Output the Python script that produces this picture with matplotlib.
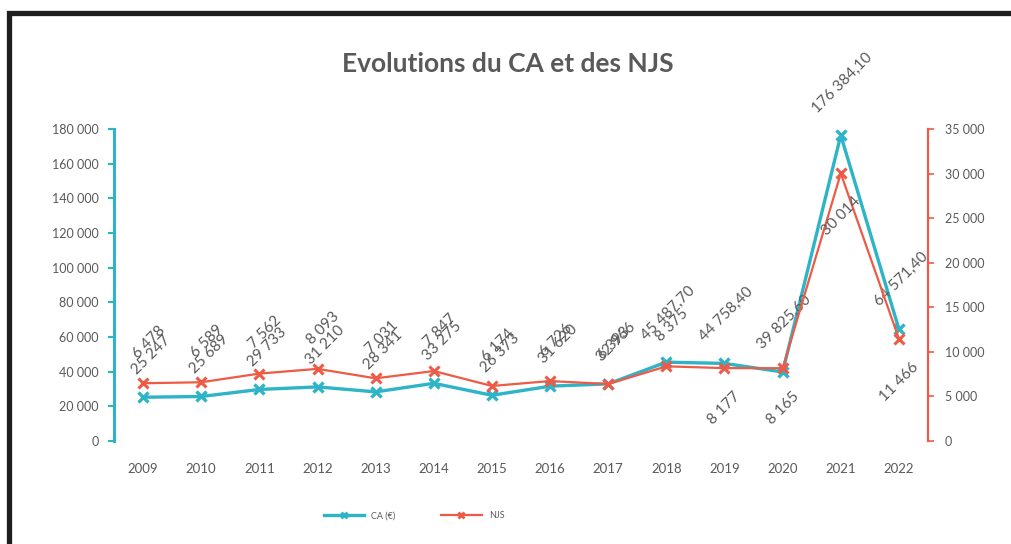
import matplotlib
matplotlib.use("Agg")
import matplotlib.pyplot as plt
from matplotlib.patches import Rectangle
from matplotlib.lines import Line2D
from matplotlib.ticker import FuncFormatter

years = ["2009", "2010", "2011", "2012", "2013", "2014", "2015", "2016", "2017",
         "2018", "2019", "2020", "2021", "2022"]
ca = [25247, 25689, 29733, 31210, 28341, 33275, 26373, 31620, 32966,
      45487.70, 44758.40, 39825.60, 176384.10, 64571.40]
njs = [6478, 6589, 7562, 8093, 7031, 7847, 6174, 6726, 6393,
       8375, 8177, 8165, 30014, 11466]
njs_below = [False] * 10 + [True] * 4

CYAN = "#2DB4C6"
RED = "#EE5A45"
GRAY = "#595959"

plt.rcParams['font.family'] = ['Lato', 'DejaVu Sans']


def fmt_num(v):
    if abs(v - round(v)) > 1e-6:
        s = f"{v:,.2f}"
        return s.replace(",", " ").replace(".", ",")
    return f"{int(round(v)):,}".replace(",", " ")


fig = plt.figure(figsize=(10.11, 5.44), dpi=100)
fig.patch.set_facecolor("white")

ax = fig.add_axes([114/1011, 1-441/544, (928-114)/1011, (441-129)/544])
ax2 = ax.twinx()

x = list(range(len(years)))
ax.plot(x, ca, color=CYAN, lw=2.4, marker="x", ms=7, mew=2.4, zorder=3)
ax2.plot(x, njs, color=RED, lw=1.6, marker="x", ms=7, mew=2.2, zorder=3)

ax.set_xlim(-0.5, len(years) - 0.5)
ax.set_ylim(0, 180000)
ax2.set_ylim(0, 35000)
ax.set_yticks(range(0, 180001, 20000))
ax2.set_yticks(range(0, 35001, 5000))
thou = FuncFormatter(lambda v, p: fmt_num(v))
ax.yaxis.set_major_formatter(thou)
ax2.yaxis.set_major_formatter(thou)
ax.set_xticks(x)
ax.set_xticklabels(years)

for a in (ax, ax2):
    for s in ("top", "bottom"):
        a.spines[s].set_visible(False)
    a.set_facecolor("none")
ax.spines["right"].set_visible(False)
ax2.spines["left"].set_visible(False)
ax.spines["left"].set_color(CYAN)
ax.spines["left"].set_linewidth(2.2)
ax2.spines["right"].set_color(RED)
ax2.spines["right"].set_linewidth(1.6)

ax.tick_params(axis="y", colors=CYAN, length=4, width=1.5, labelcolor=GRAY,
               labelsize=9, pad=7)
ax2.tick_params(axis="y", colors=RED, length=4, width=1.2, labelcolor=GRAY,
                labelsize=9, pad=8)
ax.tick_params(axis="x", length=0, labelcolor=GRAY, labelsize=9.5, pad=16)

LBL = 11
for i, v in enumerate(ca):
    dx = 8 if i < 9 else 2
    ax.annotate(fmt_num(v), (i, v), xytext=(dx, 20), textcoords="offset pixels",
                ha="center", va="bottom", rotation=45, fontsize=LBL, color=GRAY,
                zorder=4)
for i, v in enumerate(njs):
    if njs_below[i]:
        ax2.annotate(fmt_num(v), (i, v), xytext=(0, -21), textcoords="offset pixels",
                     ha="center", va="top", rotation=45, fontsize=LBL, color=GRAY,
                     zorder=4)
    else:
        ax2.annotate(fmt_num(v), (i, v), xytext=(6, 22), textcoords="offset pixels",
                     ha="center", va="bottom", rotation=45, fontsize=LBL, color=GRAY,
                     zorder=4)

fig.text(508/1011, 1-64/544, "Evolutions du CA et des NJS", ha="center", va="center",
         fontsize=19, fontweight="bold", color=GRAY)

handles = [Line2D([], [], color=CYAN, lw=2.4, marker="x", ms=5, mew=2),
           Line2D([], [], color=RED, lw=1.6, marker="x", ms=5, mew=2)]
fig.legend(handles, ["CA (€)", "NJS"], loc="center", bbox_to_anchor=(414/1011, 1-516/544),
           ncol=2, frameon=False, fontsize=6.5, handlelength=4.5, columnspacing=5,
           labelcolor=GRAY)

fig.add_artist(Rectangle((8.5/1011, -0.2), 1.2, 1.2 - 13/544, transform=fig.transFigure,
                         fill=False, edgecolor="#1e1e1e", lw=3.8))

fig.savefig("out.png", dpi=100, facecolor="white")
